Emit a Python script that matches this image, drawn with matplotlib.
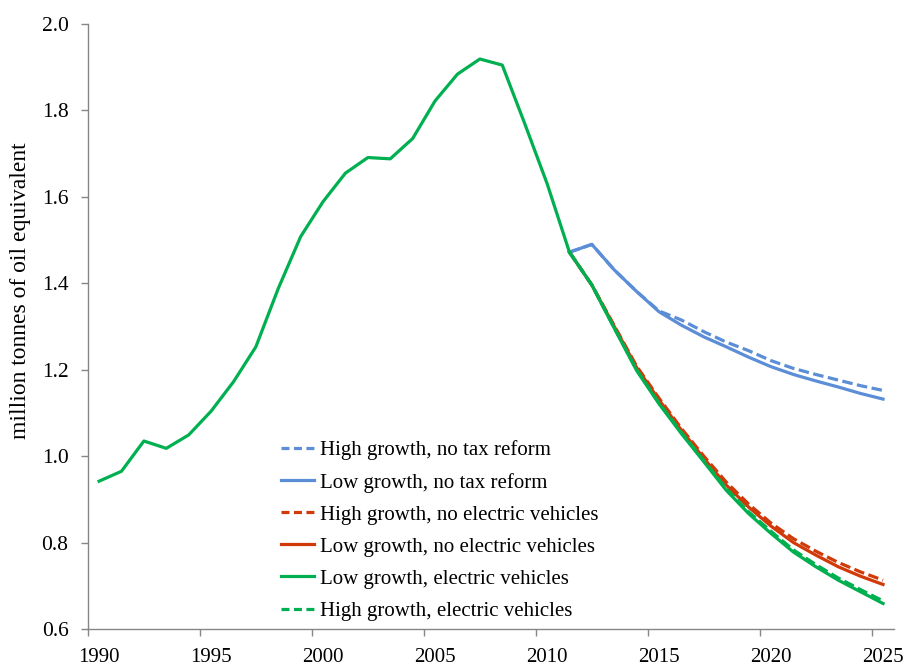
import numpy as np
import matplotlib.pyplot as plt
from matplotlib.ticker import FixedLocator

plt.rcParams['font.family'] = ['Liberation Serif', 'DejaVu Serif']

# historical series 1990-2011
hist_years = list(range(1990, 2012))
hist_values = [0.942, 0.965, 1.035, 1.018, 1.049, 1.104, 1.172, 1.253, 1.388, 1.508,
               1.589, 1.655, 1.691, 1.688, 1.735, 1.822, 1.884, 1.919, 1.905, 1.770,
               1.631, 1.472]

# scenarios 2011-2025
proj_years = list(range(2011, 2026))
high_no_tax = [1.472, 1.490, 1.431, 1.381, 1.336, 1.315, 1.288, 1.264, 1.244, 1.221,
               1.203, 1.189, 1.176, 1.163, 1.152]
low_no_tax = [1.472, 1.490, 1.431, 1.381, 1.334, 1.303, 1.276, 1.253, 1.229, 1.207,
              1.189, 1.174, 1.160, 1.145, 1.132]
high_no_ev = [1.472, 1.396, 1.302, 1.208, 1.134, 1.064, 1.000, 0.940, 0.889, 0.845,
              0.809, 0.780, 0.754, 0.732, 0.713]
low_no_ev = [1.472, 1.396, 1.300, 1.205, 1.130, 1.060, 0.995, 0.933, 0.882, 0.838,
             0.800, 0.771, 0.744, 0.722, 0.703]
low_ev = [1.472, 1.396, 1.296, 1.198, 1.121, 1.052, 0.987, 0.921, 0.867, 0.821,
          0.778, 0.744, 0.713, 0.686, 0.659]
high_ev = [1.472, 1.396, 1.297, 1.200, 1.123, 1.055, 0.990, 0.925, 0.871, 0.826,
           0.783, 0.749, 0.718, 0.691, 0.665]

blue = '#5B8ED6'
red = '#D03A08'
green = '#00B050'
dash = (3.3, 1.4)
lw = 2.3

fig = plt.figure(figsize=(9.06, 6.67), dpi=100)
ax = fig.add_axes([0.097, 0.057, 0.890, 0.907])

ax.plot(proj_years, high_no_tax, color=blue, lw=lw, dashes=dash, label='High growth, no tax reform')
ax.plot(proj_years, low_no_tax, color=blue, lw=lw, label='Low growth, no tax reform')
ax.plot(proj_years, high_no_ev, color=red, lw=lw, dashes=dash, label='High growth, no electric vehicles')
ax.plot(proj_years, low_no_ev, color=red, lw=lw, label='Low growth, no electric vehicles')
ax.plot(hist_years, hist_values, color=green, lw=lw)
ax.plot(proj_years, low_ev, color=green, lw=lw, label='Low growth, electric vehicles')
ax.plot(proj_years, high_ev, color=green, lw=lw, dashes=dash, label='High growth, electric vehicles')

ax.set_xlim(1989.5, 2025.5)
ax.set_ylim(0.6, 2.0)

ax.set_xticks(range(1990, 2026, 5))
ax.xaxis.set_minor_locator(FixedLocator(np.arange(1989.5, 2026, 5)))
ax.tick_params(axis='x', which='major', length=0, pad=14, labelsize=15)
ax.tick_params(axis='x', which='minor', length=5, color='#868686', width=1)
ax.set_yticks(np.arange(0.6, 2.01, 0.2))
ax.set_yticklabels([f'{v:.1f}' for v in np.arange(0.6, 2.01, 0.2)])
ax.tick_params(axis='y', length=5, color='#868686', width=1, pad=9, labelsize=15.5)

for s in ['top', 'right']:
    ax.spines[s].set_visible(False)
for s in ['left', 'bottom']:
    ax.spines[s].set_color('#868686')
    ax.spines[s].set_linewidth(1)

ax.set_ylabel('million tonnes of oil equivalent', fontsize=17)
ax.yaxis.set_label_coords(-0.07, 0.56)

leg = ax.legend(loc='upper left', bbox_to_anchor=(0.310, 0.340), bbox_transform=fig.transFigure,
                frameon=False, fontsize=15, handlelength=1.6, handletextpad=0.3,
                labelspacing=0.6, borderpad=0, borderaxespad=0)
for ln in leg.get_lines():
    if ln.get_linestyle() == '--':
        ln.set_dashes((2.5, 1.4))

fig.savefig('out.png', dpi=100)
